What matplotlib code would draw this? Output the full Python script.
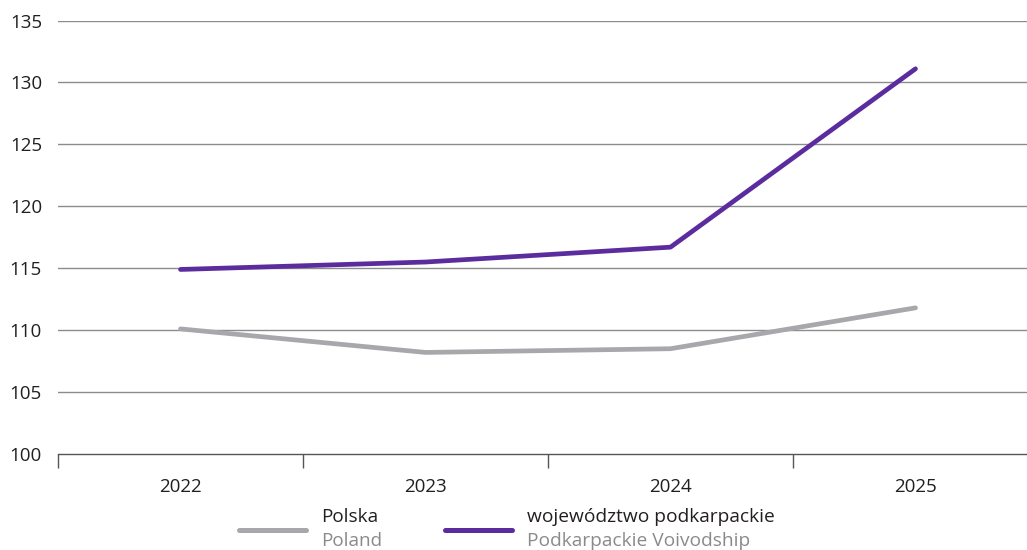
import matplotlib
matplotlib.use("Agg")
import matplotlib.pyplot as plt
from matplotlib.lines import Line2D

plt.rcParams['font.family'] = ['Open Sans', 'DejaVu Sans']

years = ["2022", "2023", "2024", "2025"]
polska = [110.1, 108.2, 108.5, 111.8]
podkarpackie = [114.9, 115.5, 116.7, 131.1]
yticks = [100, 105, 110, 115, 120, 125, 130, 135]

W, H = 1027, 550
fig = plt.figure(figsize=(W / 100, H / 100), dpi=100)
ax = fig.add_axes([58 / W, 96 / H, 980 / W, 433.5 / H])

gray = "#A8A8AC"
purple = "#5B2C9E"
x = list(range(len(years)))
ax.plot(x, polska, color=gray, lw=3.4, solid_capstyle='round', zorder=3)
ax.plot(x, podkarpackie, color=purple, lw=3.4, solid_capstyle='round', zorder=4)

ax.set_xlim(-0.5, len(years) - 0.5)
ax.set_ylim(100, 135)
ax.set_yticks(yticks)
ax.set_yticklabels([str(v) for v in yticks], fontsize=13.5, color="#231F20")
ax.tick_params(axis='y', length=0, pad=11.5)
for v in yticks[1:]:
    ax.axhline(v, color="#8C8C8C", lw=1.0, zorder=1)

ax.set_xticks([i - 0.5 for i in range(len(years) + 1)])
ax.set_xticklabels([])
ax.tick_params(axis='x', which='major', direction='out', length=10, width=1, color="#555555")
ax.set_xticks(x, minor=True)
ax.set_xticklabels(years, minor=True, fontsize=13.5, color="#231F20")
ax.tick_params(axis='x', which='minor', length=0, pad=17)

for s in ['top', 'right', 'left']:
    ax.spines[s].set_visible(False)
ax.spines['bottom'].set_color("#555555")
ax.spines['bottom'].set_linewidth(1.0)

# legend
def fx(px):
    return px / W

def fy(py):
    return 1 - py / H

fig.add_artist(Line2D([fx(239), fx(306)], [fy(530), fy(530)], color=gray, lw=3.6, solid_capstyle='round'))
fig.text(fx(321), fy(517), "Polska", fontsize=13.6, color="#231F20", va='center', ha='left')
fig.text(fx(321), fy(541), "Poland", fontsize=13.6, color="#8A8A8D", va='center', ha='left')
fig.add_artist(Line2D([fx(445), fx(512)], [fy(530), fy(530)], color=purple, lw=3.6, solid_capstyle='round'))
fig.text(fx(527), fy(517), "województwo podkarpackie", fontsize=13.8, color="#231F20", va='center', ha='left')
fig.text(fx(527), fy(541), "Podkarpackie Voivodship", fontsize=13.8, color="#8A8A8D", va='center', ha='left')

fig.savefig("out.png", dpi=100)
